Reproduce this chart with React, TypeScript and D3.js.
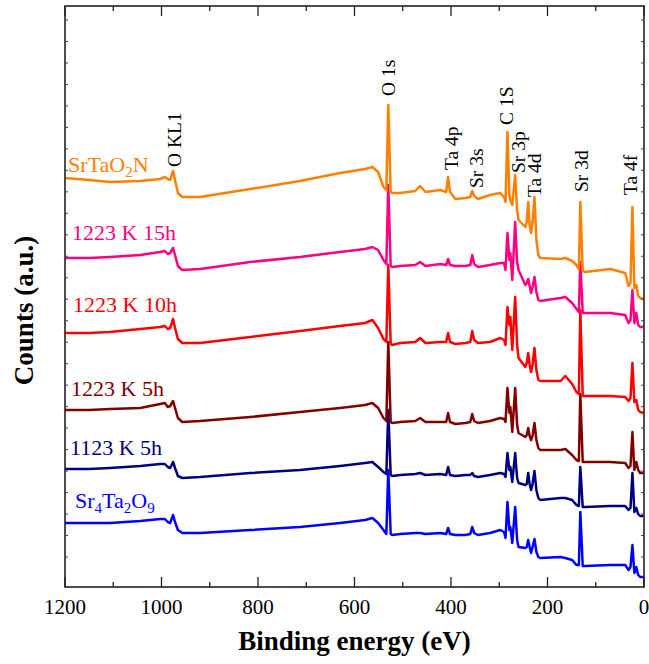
import React from "react";
import * as d3 from "d3";

// Binding energy grid (eV) shared by all spectra
const BINDING_ENERGY = [
  1200, 1150, 1107, 1044, 1003, 993, 987, 982, 976, 972, 966, 957, 920, 816, 713, 630,
  578, 563, 551, 540, 534, 530, 525, 522, 505, 474, 464, 453, 422, 410, 406, 402, 391,
  370, 360, 356, 352, 344, 319, 298, 290, 287, 283, 279, 277, 273, 267, 263, 260, 246,
  243, 240, 237, 234, 231, 227, 223, 219, 215, 173, 163, 149, 140, 135, 132, 127, 122,
  70, 39, 32, 28, 24, 20, 16, 12, 8, 1,
];

// Counts (a.u., stacked offsets included)
const SrTaO2N = [
  409, 407, 405, 406, 408, 410, 408, 407, 416, 407, 394, 390, 390, 398, 406, 414, 418,
  420, 415, 400, 397, 482, 395, 394, 394, 396, 401, 395, 397, 395, 410, 395, 388, 389,
  390, 396, 391, 388, 392, 394, 390, 385, 455, 392, 387, 382, 412, 377, 367, 360, 365,
  385, 362, 354, 365, 390, 347, 332, 329, 328, 329, 326, 322, 318, 385, 316, 315, 318,
  314, 301, 304, 380, 299, 302, 291, 289, 288,
];
const K1223_15h = [
  329, 329, 330, 332, 335, 336, 333, 334, 339, 332, 321, 317, 318, 325, 330, 335, 338,
  340, 337, 327, 323, 402, 321, 320, 321, 322, 325, 321, 323, 322, 328, 322, 321, 321,
  322, 332, 323, 320, 322, 324, 324, 317, 354, 327, 334, 307, 365, 325, 317, 302, 304,
  308, 301, 294, 300, 310, 295, 287, 286, 289, 290, 284, 278, 275, 325, 274, 274, 274,
  272, 264, 267, 297, 264, 274, 262, 260, 260,
];
const K1223_10h = [
  254, 254, 255, 258, 260, 261, 258, 259, 268, 259, 248, 244, 244, 250, 256, 261, 264,
  267, 259, 248, 245, 322, 243, 242, 244, 245, 249, 244, 245, 245, 254, 245, 243, 244,
  245, 256, 247, 244, 245, 249, 247, 242, 280, 262, 270, 237, 290, 242, 229, 220, 224,
  234, 222, 215, 222, 239, 217, 207, 206, 206, 211, 203, 195, 193, 277, 191, 191, 191,
  190, 186, 189, 224, 185, 187, 177, 175, 174,
];
const K1223_5h = [
  177, 177, 178, 179, 183, 184, 180, 181, 186, 179, 169, 165, 166, 170, 175, 179, 182,
  184, 179, 169, 166, 245, 165, 164, 165, 166, 169, 165, 165, 165, 174, 165, 163, 164,
  165, 173, 166, 164, 166, 169, 168, 165, 199, 174, 180, 155, 199, 162, 154, 150, 152,
  159, 151, 147, 151, 164, 147, 139, 137, 137, 138, 132, 127, 126, 193, 125, 125, 125,
  124, 119, 121, 155, 117, 125, 117, 114, 114,
];
const K1123_5h = [
  118, 118, 119, 121, 123, 123, 120, 119, 125, 119, 111, 109, 110, 114, 117, 121, 124,
  125, 120, 115, 113, 177, 112, 111, 112, 113, 114, 112, 113, 112, 120, 112, 111, 112,
  112, 114, 111, 110, 112, 114, 113, 110, 134, 117, 120, 105, 134, 109, 104, 102, 103,
  114, 103, 97, 103, 116, 97, 89, 87, 89, 89, 87, 82, 81, 120, 80, 80, 81, 81, 77, 79,
  114, 75, 79, 73, 71, 71,
];
const Sr4Ta2O9 = [
  64, 64, 64, 66, 68, 68, 65, 64, 72, 65, 57, 54, 54, 57, 60, 64, 67, 69, 64, 57, 53,
  117, 53, 52, 53, 54, 54, 53, 54, 53, 59, 53, 52, 52, 53, 60, 54, 52, 54, 57, 55, 49,
  85, 57, 60, 44, 80, 47, 40, 39, 40, 47, 40, 34, 40, 48, 35, 30, 29, 30, 29, 27, 22,
  22, 75, 21, 21, 22, 22, 17, 20, 42, 14, 20, 12, 10, 10,
];

// drawn bottom to top so that upper spectra lie on top
const SERIES = [
  { key: "Sr4Ta2O9", values: Sr4Ta2O9, color: "#0000FF" },
  { key: "1123 K 5h", values: K1123_5h, color: "#000080" },
  { key: "1223 K 5h", values: K1223_5h, color: "#800000" },
  { key: "1223 K 10h", values: K1223_10h, color: "#FF0000" },
  { key: "1223 K 15h", values: K1223_15h, color: "#FF0080" },
  { key: "SrTaO2N", values: SrTaO2N, color: "#FF8000" },
];

const X_TICK_LABELS = [1200, 1000, 800, 600, 400, 200, 0];

// peak assignments: [label, binding energy of label centre, counts level of label start]
const PEAK_LABELS: [string, number, number][] = [
  ["O KL1", 973, 420],
  ["O 1s", 529, 491],
  ["Ta 4p", 400, 417],
  ["Sr 3s", 347, 399],
  ["C 1S", 286, 462],
  ["Sr 3p", 261, 414],
  ["Ta 4d", 226, 390],
  ["Sr 3d", 129, 395],
  ["Ta 4f", 27, 392],
];

const FONT = "'Liberation Serif', 'Times New Roman', serif";

export default function App() {
  const W = 649;
  const H = 664;
  const left = 65;
  const right = 644;
  const top = 6;
  const bottom = 587;

  const x = d3.scaleLinear().domain([1200, 0]).range([left, right]);
  const y = d3.scaleLinear().domain([0, 581]).range([bottom, top]);

  const line = d3
    .line<number>()
    .x((_, i) => x(BINDING_ENERGY[i]))
    .y((d) => y(d));

  const xTicks = d3.range(0, 1201, 100);
  const yTicks = d3.range(30, 570, 21.48);

  return (
    <svg
      width={W}
      height={H}
      style={{ position: "absolute", left: 0, top: 0, display: "block", background: "#fff" }}
      fontFamily={FONT}
    >
      <rect x={0} y={0} width={W} height={H} fill="#fff" />

      {SERIES.map((s) => (
        <path
          key={s.key}
          d={line(s.values) || ""}
          fill="none"
          stroke={s.color}
          strokeWidth={2.5}
          strokeLinejoin="round"
        />
      ))}

      {/* frame */}
      <rect
        x={left}
        y={top}
        width={right - left}
        height={bottom - top}
        fill="none"
        stroke="#222"
        strokeWidth={1.6}
      />

      {/* x ticks bottom and top */}
      {xTicks.map((t) => {
        const len = t % 200 === 0 ? 10 : 5;
        return (
          <g key={"xt" + t}>
            <line x1={x(t)} x2={x(t)} y1={bottom} y2={bottom - len} stroke="#222" strokeWidth={1.3} />
            <line x1={x(t)} x2={x(t)} y1={top} y2={top + len} stroke="#222" strokeWidth={1.3} />
          </g>
        );
      })}

      {/* y ticks left and right (unlabelled) */}
      {yTicks.map((t, i) => (
        <g key={"yt" + i}>
          <line x1={left} x2={left + 3} y1={y(t)} y2={y(t)} stroke="#444" strokeWidth={1} />
          <line x1={right} x2={right - 3} y1={y(t)} y2={y(t)} stroke="#444" strokeWidth={1} />
        </g>
      ))}

      {/* x tick labels */}
      {X_TICK_LABELS.map((t) => (
        <text key={"xl" + t} x={x(t)} y={614} textAnchor="middle" fontSize={21} fill="#000">
          {t}
        </text>
      ))}

      {/* axis titles */}
      <text x={(left + right) / 2} y={650} textAnchor="middle" fontSize={27} fontWeight="bold" fill="#000">
        Binding energy (eV)
      </text>
      <text
        transform={`translate(33, ${(top + bottom) / 2 + 14}) rotate(-90)`}
        textAnchor="middle"
        fontSize={27}
        fontWeight="bold"
        fill="#000"
      >
        Counts (a.u.)
      </text>

      {/* peak labels */}
      {PEAK_LABELS.map(([label, be, level]) => (
        <text
          key={label}
          transform={`translate(${x(be) + 6.5}, ${y(level)}) rotate(-90)`}
          fontSize={19.5}
          fill="#000"
        >
          {label}
        </text>
      ))}

      {/* series labels */}
      <text x={68} y={172} fontSize={22} fill="#FF8000">
        SrTaO<tspan dy={5} fontSize={15}>2</tspan>
        <tspan dy={-5}>N</tspan>
      </text>
      <text x={72} y={240} fontSize={22} fill="#FF0080">
        1223 K 15h
      </text>
      <text x={73} y={312} fontSize={22} fill="#FF0000">
        1223 K 10h
      </text>
      <text x={71} y={396} fontSize={22} fill="#800000">
        1223 K 5h
      </text>
      <text x={70} y={455} fontSize={22} fill="#000080">
        1123 K 5h
      </text>
      <text x={75} y={508} fontSize={22} fill="#0000FF">
        Sr<tspan dy={5} fontSize={15}>4</tspan>
        <tspan dy={-5}>Ta</tspan>
        <tspan dy={5} fontSize={15}>2</tspan>
        <tspan dy={-5}>O</tspan>
        <tspan dy={5} fontSize={15}>9</tspan>
      </text>
    </svg>
  );
}
